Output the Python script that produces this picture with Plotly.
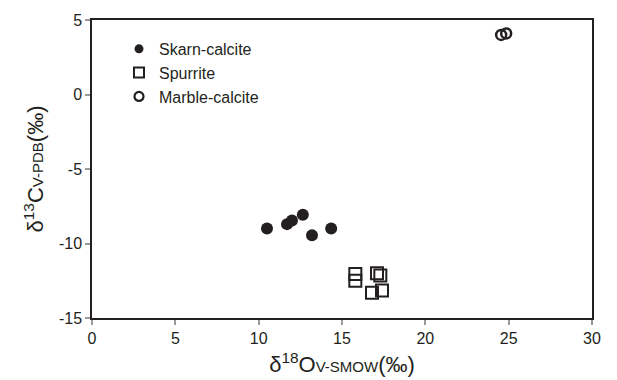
import plotly.graph_objects as go

# Data
skarn_x = [10.5, 11.7, 12.0, 12.65, 13.2, 14.35]
skarn_y = [-9.0, -8.7, -8.45, -8.07, -9.45, -9.0]

spurrite_x = [15.8, 15.8, 17.1, 17.3, 16.8, 17.4]
spurrite_y = [-12.05, -12.5, -12.0, -12.15, -13.3, -13.15]

marble_x = [24.55, 24.85]
marble_y = [4.0, 4.1]

x_ticks = [0, 5, 10, 15, 20, 25, 30]
y_ticks = [-15, -10, -5, 0, 5]

INK = "#231f20"
FONT = "Arial, Liberation Sans, sans-serif"

fig = go.Figure()

fig.add_trace(go.Scatter(
    x=skarn_x, y=skarn_y, mode="markers", name="Skarn-calcite", showlegend=False,
    marker=dict(symbol="circle", size=12, color=INK, line=dict(width=0)),
))
fig.add_trace(go.Scatter(
    x=spurrite_x, y=spurrite_y, mode="markers", name="Spurrite", showlegend=False,
    marker=dict(symbol="square-open", size=12, color=INK, line=dict(width=2, color=INK)),
))
fig.add_trace(go.Scatter(
    x=marble_x, y=marble_y, mode="markers", name="Marble-calcite", showlegend=False,
    marker=dict(symbol="circle-open", size=10, color=INK, line=dict(width=2.5, color=INK)),
))

# legend entries (smaller symbols, as in the reference legend)
fig.add_trace(go.Scatter(x=[None], y=[None], mode="markers", name="Skarn-calcite",
                         legendgroup="a",
                         marker=dict(symbol="circle", size=9, color=INK)))
fig.add_trace(go.Scatter(x=[None], y=[None], mode="markers", name="Spurrite",
                         legendgroup="b",
                         marker=dict(symbol="square-open", size=10, color=INK,
                                     line=dict(width=2, color=INK))))
fig.add_trace(go.Scatter(x=[None], y=[None], mode="markers", name="Marble-calcite",
                         legendgroup="c",
                         marker=dict(symbol="circle-open", size=9, color=INK,
                                     line=dict(width=2.2, color=INK))))

axis_common = dict(
    showgrid=False, zeroline=False, showline=True, linecolor=INK, linewidth=1.5,
    mirror=True, ticks="outside", ticklen=5, tickcolor="#9a9a9a", tickwidth=1.5,
    tickfont=dict(family=FONT, size=16, color=INK), automargin=False,
)

fig.update_layout(
    width=617, height=380,
    margin=dict(l=92, r=25, t=20, b=62),
    paper_bgcolor="white", plot_bgcolor="white",
    font=dict(family=FONT, color=INK),
    xaxis=dict(range=[0, 30], tickvals=x_ticks, ticktext=[str(v) for v in x_ticks],
               title=dict(text="δ<sup>18</sup>O<span style='font-size:15px'>V-SMOW</span>(‰)",
                          font=dict(family=FONT, size=22, color=INK), standoff=11),
               **axis_common),
    yaxis=dict(range=[-15, 5], tickvals=y_ticks, ticktext=[str(v) for v in y_ticks],
               title=dict(text="δ<sup>13</sup>C<span style='font-size:15px'>V-PDB</span>(‰)",
                          font=dict(family=FONT, size=22, color=INK), standoff=9),
               **axis_common),
    legend=dict(x=0.054, y=0.96, xanchor="left", yanchor="top",
                bgcolor="rgba(0,0,0,0)", itemwidth=30, tracegroupgap=0,
                traceorder="grouped",
                font=dict(family=FONT, size=16, color=INK)),
)

fig.write_html("out.html", config={"displayModeBar": False},
               post_script="document.body.style.margin='0';")
